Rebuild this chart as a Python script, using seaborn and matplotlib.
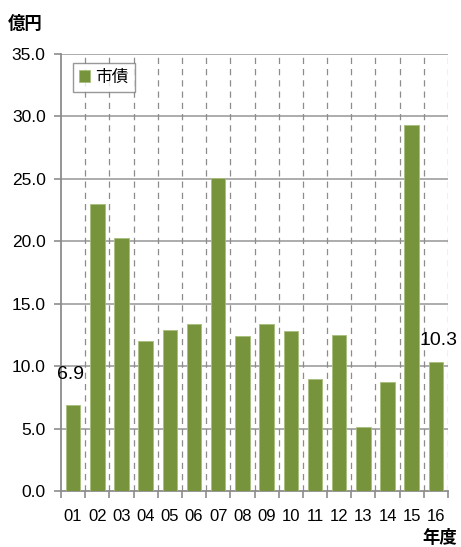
import matplotlib
matplotlib.use("Agg")
import matplotlib.pyplot as plt
import seaborn as sns
import pandas as pd

years = ["01", "02", "03", "04", "05", "06", "07", "08",
         "09", "10", "11", "12", "13", "14", "15", "16"]
bonds = [6.9, 23.0, 20.3, 12.0, 12.9, 13.4, 25.1, 12.4,
         13.4, 12.8, 9.0, 12.5, 5.1, 8.7, 29.3, 10.3]
labeled_years = ["01", "16"]
yticks = [0.0, 5.0, 10.0, 15.0, 20.0, 25.0, 30.0, 35.0]

sns.set_theme(style="white")
plt.rcParams["font.family"] = ["Liberation Sans", "Noto Sans CJK JP", "DejaVu Sans"]
plt.rcParams["text.color"] = "black"
plt.rcParams["xtick.color"] = "black"
plt.rcParams["ytick.color"] = "black"
cjk = ["Noto Sans CJK JP", "DejaVu Sans"]

df = pd.DataFrame({"年度": years, "市債": bonds})

fig = plt.figure(figsize=(4.61, 5.47), dpi=100)
ax = fig.add_axes([61 / 461, 1 - 491 / 547, 387 / 461, 437 / 547])

bar_color = "#77933C"
sns.barplot(data=df, x="年度", y="市債", color=bar_color, width=0.6,
            saturation=1, ax=ax, edgecolor="#a8bf7c", linewidth=0.6,
            label="市債", zorder=3)

ax.set_ylim(0, 35)
ax.set_xlim(-0.5, len(years) - 0.5)
ax.set_yticks(yticks)
ax.set_yticklabels([f"{v:.1f}" for v in yticks], fontsize=12.5)
ax.set_xticks(range(len(years)))
ax.set_xticklabels(years, fontsize=12)
ax.set_xlabel("")
ax.set_ylabel("")

# horizontal grid
for v in yticks[1:]:
    ax.axhline(v, color="#a6a6a6", linewidth=1.3, zorder=1)
# dashed separators between categories
for i in range(len(years)):
    ax.axvline(i + 0.5, color="#8c8c8c", linewidth=0.9,
               linestyle=(0, (5, 4)), zorder=1)

for side in ["top", "right"]:
    ax.spines[side].set_visible(False)
for side in ["left", "bottom"]:
    ax.spines[side].set_visible(True)
    ax.spines[side].set_color("#8c8c8c")
    ax.spines[side].set_linewidth(1.3)

ax.tick_params(axis="y", which="major", direction="out", length=5,
               color="#8c8c8c", labelcolor="black", width=1.2, left=True, pad=6)
ax.tick_params(axis="x", which="major", length=0, pad=13, labelcolor="black")
# bottom boundary ticks
ax.set_xticks([i - 0.5 for i in range(len(years) + 1)], minor=True)
ax.tick_params(axis="x", which="minor", direction="out", length=5,
               color="#8c8c8c", width=1.2, bottom=True)

# value labels
for i, (yr, v) in enumerate(zip(years, bonds)):
    if yr in labeled_years:
        ax.annotate(f"{v:.1f}", xy=(i, v), xytext=(-2 if i == 0 else 2, 16 if i == 15 else 22),
                    textcoords="offset points", ha="center", va="center",
                    fontsize=14, color="black", zorder=5)

leg = ax.legend(loc="upper left", bbox_to_anchor=(0.031, 0.979), frameon=True,
                fancybox=False, prop={"family": cjk, "size": 12},
                handlelength=0.7, handleheight=0.7, handletextpad=0.3,
                borderpad=0.35, borderaxespad=0.0)
leg.get_frame().set_edgecolor("#7f7f7f")
leg.get_frame().set_linewidth(1.0)

fig.text(8 / 461, 1 - 24 / 547, "億円", fontsize=12.5, fontweight="bold",
         family=cjk, ha="left", va="center")
fig.text(457 / 461, 1 - 538 / 547, "年度", fontsize=12.5, fontweight="bold",
         family=cjk, ha="right", va="center")

fig.savefig("out.png", dpi=100, facecolor="white")
